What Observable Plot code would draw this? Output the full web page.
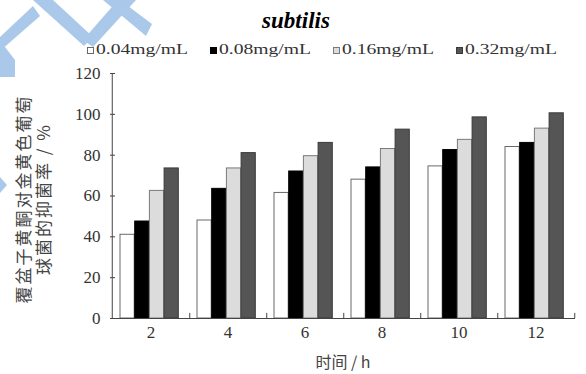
<!DOCTYPE html>
<html>
<head>
<meta charset="utf-8">
<script src="https://cdn.jsdelivr.net/npm/d3@7"></script>
<script src="https://cdn.jsdelivr.net/npm/@observablehq/plot@0.6"></script>
<style>
  html, body { margin: 0; padding: 0; background: #fff; }
  #wrap { position: relative; width: 586px; height: 374px; overflow: hidden; }
  #title { height: 36px; box-sizing: border-box; padding-top: 8px; line-height: 26px; text-align: center;
           font-family: "Liberation Serif", "Times New Roman", Tinos, "DejaVu Serif"; font-weight: bold; font-style: italic;
           font-size: 23px; color: #000; padding-left: 6px; }
  #legend { height: 28px; display: flex; align-items: center; padding-left: 87px;
            font-family: "Liberation Serif", "Times New Roman", Tinos, "DejaVu Serif"; font-size: 14px; color: #333; }
  .item { display: flex; align-items: center; width: 123px; flex: none; }
  .sw { width: 7px; height: 7px; box-sizing: border-box; border: 1px solid #555; margin-right: 2px; flex: none; }
  .lt { display: inline-block; transform: scaleX(1.4); transform-origin: left center; white-space: nowrap; }
  #wm { position: absolute; left: 0; top: 0; pointer-events: none; }
</style>
</head>
<body>
<div id="wrap">
  <div id="title">subtilis</div>
  <div id="legend"></div>
  <div id="chart"></div>
  <svg id="wm" width="160" height="200" viewBox="0 0 160 200">
    <g fill="#aac9ea">
      <polygon points="33,0 53,0 93,37 84,46"/>
      <polygon points="83,40 118,0 136,0 93,47"/>
      <polygon points="103,0 120,0 152,24 146,36"/>
      <polygon points="0,37 33,6 40,16 0,51"/>
      <polygon points="0,47 5,47 15,60 15,77 0,77"/>
      <polygon points="0,177 7,185 0,193"/>
    </g>
  </svg>
</div>
<script>
// ---- data ----
const hours = ["2", "4", "6", "8", "10", "12"];
const concs = ["0.04mg/mL", "0.08mg/mL", "0.16mg/mL", "0.32mg/mL"];
const v004 = [41, 48, 61.5, 68, 74.5, 84];
const v008 = [47.5, 63.5, 72, 74, 82.5, 86];
const v016 = [62.5, 73.5, 79.5, 83, 87.5, 93];
const v032 = [73.5, 81, 86, 92.5, 98.5, 100.5];
const yTicks = [0, 20, 40, 60, 80, 100, 120];
const yLabel = "覆盆子黄酮对金黄色葡萄\n球菌的抑菌率 / %";
const xLabel = "时间 / h";

// ---- styles ----
const fills = ["#ffffff", "#000000", "#dcdcdc", "#555555"];
const strokes = ["#6a6a6a", "#000000", "#7a7a7a", "#3a3a3a"];

const series = [v004, v008, v016, v032];
const data = concs.flatMap((c, i) => hours.map((h, j) => ({hour: h, conc: c, value: series[i][j]})));

const W = 586, mL = 110, mR = 11;
const step = (W - mL - mR) / hours.length;
const off = 8, bw = 14.7;

const barMarks = concs.map((c, i) =>
  Plot.barY(data.filter(d => d.conc === c), {
    x: "hour", y: "value", fill: fills[i], stroke: strokes[i], strokeWidth: 1,
    insetLeft: off + i * bw, insetRight: step - off - (i + 1) * bw
  })
);

const plot = Plot.plot({
  width: W,
  height: 310,
  marginLeft: mL,
  marginRight: mR,
  marginTop: 9,
  marginBottom: 56,
  style: {color: "#333", background: "transparent", fontSize: "17px"},
  x: {domain: hours, padding: 0, label: null},
  y: {domain: [0, 120], label: null},
  marks: [
    ...barMarks,
    Plot.ruleY([0], {stroke: "#444"}),
    Plot.ruleX([hours[0]], {dx: -step / 2, y1: 0, y2: 120, stroke: "#444"}),
    Plot.ruleX(hours, {x: d => d, dx: step / 2, y1: 0, y2: 2.5, stroke: "#444"}),
    Plot.axisY({ticks: yTicks, tickSize: -5, tickPadding: 15, stroke: "#444", label: null,
                fontFamily: "Liberation Serif", fontVariant: "normal"}),
    Plot.axisX({tickSize: 0, tickPadding: 7, label: null, fontFamily: "Times New Roman", fontVariant: "normal"}),
    Plot.text([xLabel], {frameAnchor: "bottom", dy: 44, lineAnchor: "middle", fontFamily: "Noto Sans CJK SC", fontSize: 16, fill: "#444"}),
    Plot.text([yLabel], {frameAnchor: "left", textAnchor: "middle", dx: -77, dy: 3, rotate: -90, lineHeight: 1.2,
                         fontFamily: "Noto Sans CJK SC", fontSize: 17, fill: "#444"})
  ]
});
document.getElementById("chart").appendChild(plot);
d3.select(plot).selectAll("text")
  .filter(function () { return this.textContent.includes("覆"); })
  .style("letter-spacing", "2px");

// legend
const leg = document.getElementById("legend");
concs.forEach((c, i) => {
  const it = document.createElement("div");
  it.className = "item";
  const sw = document.createElement("div");
  sw.className = "sw";
  sw.style.background = fills[i];
  sw.style.borderColor = strokes[i];
  const t = document.createElement("span");
  t.className = "lt";
  t.textContent = c;
  it.appendChild(sw); it.appendChild(t);
  leg.appendChild(it);
});
</script>
</body>
</html>
